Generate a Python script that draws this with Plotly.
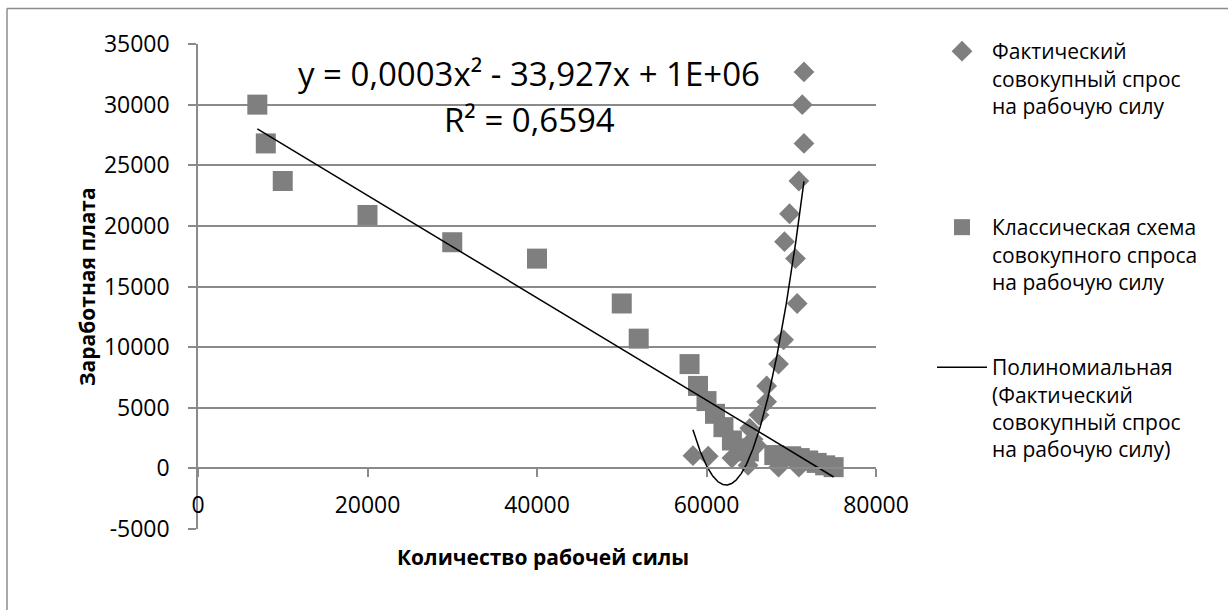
import numpy as np
import plotly.graph_objects as go

# Labour quantity (x) against wage (y)
actual_x = [71500, 71300, 71500, 70900, 69800, 69200, 70500, 70700, 69100, 68500,
            67100, 67100, 66200, 65100, 65500, 65900, 58400, 60200, 63000, 64900,
            68500, 70900]
actual_y = [32700, 30000, 26800, 23700, 21000, 18700, 17300, 13600, 10600, 8600,
            6800, 5500, 4400, 3300, 2400, 1900, 1050, 1000, 850, 250,
            100, 100]

classic_x = [7000, 8000, 10000, 20000, 30000, 40000, 50000, 52000, 58000, 59000,
             60000, 61000, 62000, 63000, 64000, 65000, 68000, 70000, 71000, 72000,
             73000, 74000, 75000]
classic_y = [30000, 26800, 23700, 20900, 18650, 17300, 13600, 10700, 8600, 6800,
             5550, 4500, 3400, 2300, 1650, 1400, 1100, 1000, 850, 650,
             450, 250, 100]

x_ticks = [0, 20000, 40000, 60000, 80000]
y_ticks = [-5000, 0, 5000, 10000, 15000, 20000, 25000, 30000, 35000]

name_actual = "Фактический<br>совокупный спрос<br>на рабочую силу"
name_classic = "Классическая схема<br>совокупного спроса<br>на рабочую силу"
name_poly = "Полиномиальная<br>(Фактический<br>совокупный спрос<br>на рабочую силу)"
eq_text = "y = 0,0003x² - 33,927x + 1E+06"
r2_text = "R² = 0,6594"
x_title = "Количество рабочей силы"
y_title = "Заработная плата"

FONT = "Open Sans"
MARK = "#7f7f7f"
GRID = "#8a8a8a"

# trend lines
poly = np.polyfit(actual_x, actual_y, 2)
px_ = np.linspace(min(actual_x), max(actual_x), 300)
py_ = np.polyval(poly, px_)

lin = np.polyfit(classic_x, classic_y, 1)
lx = np.array([min(classic_x), max(classic_x)])
ly = np.polyval(lin, lx)

fig = go.Figure()
fig.add_trace(go.Scatter(
    x=actual_x, y=actual_y, mode="markers", name=name_actual, legend="legend",
    marker=dict(symbol="diamond", size=16, color=MARK, line=dict(width=0)),
))
fig.add_trace(go.Scatter(
    x=classic_x, y=classic_y, mode="markers", name=name_classic, legend="legend2",
    marker=dict(symbol="square", size=20, color=MARK, line=dict(width=0)),
))
fig.add_trace(go.Scatter(
    x=lx, y=ly, mode="lines", showlegend=False,
    line=dict(color="black", width=1.5),
))
fig.add_trace(go.Scatter(
    x=px_, y=py_, mode="lines", name=name_poly, legend="legend3",
    line=dict(color="black", width=1.5),
))

# plot area in pixels: x 198..876, y 44..529
L, R, T, B = 198, 876, 44, 529
W, H = R - L, B - T


def pxx(p):
    return (p - L) / W


def pxy(p):
    return (B - p) / H


legend_common = dict(
    x=pxx(932), xanchor="left", yanchor="top", valign="top",
    font=dict(family=FONT, size=21, color="black"),
    itemwidth=50, bgcolor="rgba(0,0,0,0)", borderwidth=0,
)

tick_font = dict(family=FONT, size=23, color="black")

fig.update_layout(
    width=1228, height=610,
    margin=dict(l=L, r=1228 - R, t=T, b=610 - B),
    paper_bgcolor="white", plot_bgcolor="white",
    font=dict(family=FONT, size=22, color="black"),
    xaxis=dict(
        range=[0, 80000], tickvals=x_ticks, ticktext=[str(v) for v in x_ticks],
        showgrid=False, zeroline=False, showline=True, linecolor=GRID, linewidth=1.5,
        ticks="outside", ticklen=8, tickcolor=GRID, tickwidth=1.5,
        anchor="free", position=5000 / 40000, ticklabelstandoff=8,
        tickfont=tick_font,
    ),
    yaxis=dict(
        range=[-5000, 35000], tickvals=y_ticks, ticktext=[str(v) for v in y_ticks],
        showgrid=True, gridcolor=GRID, gridwidth=1.5, zeroline=False,
        showline=True, linecolor=GRID, linewidth=1.5,
        ticks="outside", ticklen=8, tickcolor=GRID, tickwidth=1.5,
        ticklabelstandoff=14,
        tickfont=tick_font,
    ),
    legend=dict(y=pxy(31), **legend_common),
    legend2=dict(y=pxy(207), **legend_common),
    legend3=dict(y=pxy(347), **legend_common),
    annotations=[
        dict(text=eq_text, xref="paper", yref="paper", x=pxx(529), y=pxy(73),
             xanchor="center", yanchor="middle", showarrow=False,
             font=dict(family=FONT, size=33, color="black")),
        dict(text=r2_text, xref="paper", yref="paper", x=pxx(529), y=pxy(119),
             xanchor="center", yanchor="middle", showarrow=False,
             font=dict(family=FONT, size=33, color="black")),
        dict(text="<b>" + x_title + "</b>", xref="paper", yref="paper",
             x=pxx(543), y=pxy(557), xanchor="center", yanchor="middle",
             showarrow=False, font=dict(family=FONT, size=21, color="black")),
        dict(text="<b>" + y_title + "</b>", xref="paper", yref="paper",
             x=pxx(87), y=pxy(287), xanchor="center", yanchor="middle",
             showarrow=False, textangle=-90,
             font=dict(family=FONT, size=21, color="black")),
    ],
    shapes=[
        dict(type="line", xref="paper", yref="paper",
             x0=pxx(7), x1=pxx(1240), y0=pxy(8.5), y1=pxy(8.5),
             line=dict(color="#8c8c8c", width=1.5)),
        dict(type="line", xref="paper", yref="paper",
             x0=pxx(7), x1=pxx(7), y0=pxy(8.5), y1=pxy(640),
             line=dict(color="#8c8c8c", width=1.5)),
    ],
)

fig.write_html("out.html")
